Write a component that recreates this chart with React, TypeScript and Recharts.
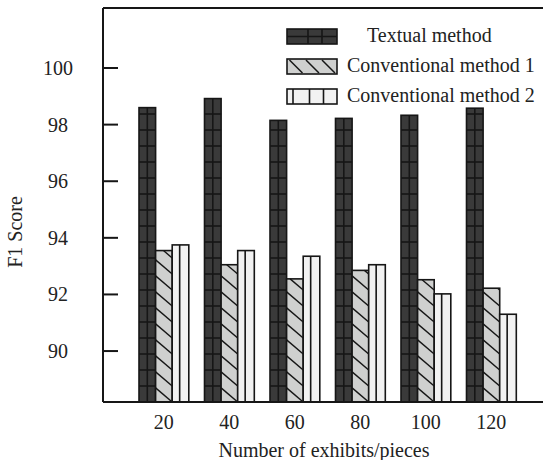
import React from 'react';
import { BarChart, Bar, XAxis, YAxis, ReferenceLine, Legend } from 'recharts';

const categories = ['20', '40', '60', '80', '100', '120'];
const textualMethod = [98.6, 98.92, 98.15, 98.22, 98.33, 98.58];
const conventional1 = [93.55, 93.05, 92.55, 92.85, 92.52, 92.22];
const conventional2 = [93.75, 93.55, 93.35, 93.05, 92.02, 91.3];
const yTicks = [90, 92, 94, 96, 98, 100];

const data = categories.map((c, i) => ({
  name: c,
  textual: textualMethod[i],
  conv1: conventional1[i],
  conv2: conventional2[i],
}));

const FONT = '"Liberation Serif", "Times New Roman", serif';
const INK = '#161616';

// dark bar with grid cells
function GridBar(props: any) {
  const { x, y, width, height } = props;
  if (!height || height <= 0) return null;
  const bottom = y + height;
  const lines = [];
  for (let yy = bottom - 16; yy > y + 2; yy -= 16) {
    lines.push(<line key={yy} x1={x} x2={x + width} y1={yy} y2={yy} stroke={INK} strokeWidth={1.6} />);
  }
  return (
    <g>
      <rect x={x} y={y} width={width} height={height} fill="#3a3a3a" stroke={INK} strokeWidth={1.6} />
      <line x1={x + width * 0.5} x2={x + width * 0.5} y1={y} y2={bottom} stroke={INK} strokeWidth={1.6} />
      {lines}
    </g>
  );
}

// grey bar with backslash hatching
function HatchBar(props: any) {
  const { x, y, width, height } = props;
  if (!height || height <= 0) return null;
  const bottom = y + height;
  const drop = width * 0.85;
  const slope = drop / width;
  const segs = [];
  for (let y0 = bottom - drop; y0 + drop > y; y0 -= 16) {
    let x1 = x;
    let y1 = y0;
    let x2 = x + width;
    let y2 = y0 + drop;
    if (y1 < y) {
      x1 = x + (y - y0) / slope;
      y1 = y;
    }
    if (y2 > bottom) {
      x2 = x + (bottom - y0) / slope;
      y2 = bottom;
    }
    segs.push(<line key={y0} x1={x1} y1={y1} x2={x2} y2={y2} stroke={INK} strokeWidth={1.4} />);
  }
  return (
    <g>
      <rect x={x} y={y} width={width} height={height} fill="#cfd0cf" />
      {segs}
      <rect x={x} y={y} width={width} height={height} fill="none" stroke={INK} strokeWidth={1.6} />
    </g>
  );
}

// light bar split by one vertical line
function SplitBar(props: any) {
  const { x, y, width, height } = props;
  if (!height || height <= 0) return null;
  return (
    <g>
      <rect x={x} y={y} width={width} height={height} fill="#f2f2f2" stroke={INK} strokeWidth={1.6} />
      <line x1={x + width * 0.45} x2={x + width * 0.45} y1={y} y2={y + height} stroke={INK} strokeWidth={1.6} />
    </g>
  );
}

function YTick(props: any) {
  const { x, y, payload } = props;
  return (
    <g>
      <line x1={x} x2={x + 15} y1={y} y2={y} stroke={INK} strokeWidth={2} />
      <text x={x - 45} y={y} textAnchor="middle" dominantBaseline="central" fontFamily={FONT} fontSize={20} fill="#222">
        {payload.value}
      </text>
    </g>
  );
}

function LegendBox() {
  const w = 50;
  const h = 15;
  const rows = [
    { label: 'Textual method', top: 0, tx: 81 },
    { label: 'Conventional method 1', top: 30, tx: 61 },
    { label: 'Conventional method 2', top: 60, tx: 61 },
  ];
  return (
    <svg width={260} height={80} style={{ display: 'block', overflow: 'visible' }}>
      {/* textual */}
      <rect x={1} y={rows[0].top + 1} width={w} height={h} fill="#3a3a3a" stroke={INK} strokeWidth={1.6} />
      <line x1={1 + w * 0.42} x2={1 + w * 0.42} y1={rows[0].top + 1} y2={rows[0].top + 1 + h} stroke={INK} strokeWidth={1.6} />
      <line x1={1 + w * 0.7} x2={1 + w * 0.7} y1={rows[0].top + 1} y2={rows[0].top + 1 + h} stroke={INK} strokeWidth={1.6} />
      <line x1={1} x2={1 + w} y1={rows[0].top + 1 + h / 2} y2={rows[0].top + 1 + h / 2} stroke={INK} strokeWidth={1.4} />
      {/* conventional 1 */}
      <rect x={1} y={rows[1].top + 1} width={w} height={h} fill="#cfd0cf" stroke={INK} strokeWidth={1.6} />
      {[0.05, 0.38, 0.7].map((f) => (
        <line key={f} x1={1 + w * f} x2={1 + w * f + 13} y1={rows[1].top + 2} y2={rows[1].top + h} stroke={INK} strokeWidth={1.5} />
      ))}
      {/* conventional 2 */}
      <rect x={1} y={rows[2].top + 1} width={w} height={h} fill="#f2f2f2" stroke={INK} strokeWidth={1.6} />
      {[0.12, 0.45, 0.73].map((f) => (
        <line key={f} x1={1 + w * f} x2={1 + w * f} y1={rows[2].top + 1} y2={rows[2].top + 1 + h} stroke={INK} strokeWidth={1.6} />
      ))}
      {rows.map((r) => (
        <text key={r.label} x={r.tx} y={r.top + 14} fontFamily={FONT} fontSize={20} fill="#222">
          {r.label}
        </text>
      ))}
    </svg>
  );
}

export default function App() {
  return (
    <div style={{ position: 'absolute', left: 0, top: 0, width: 543, height: 460, overflow: 'hidden', background: '#fff' }}>
      <BarChart
        width={600}
        height={460}
        data={data}
        margin={{ top: 8, right: 20, left: 0, bottom: 0 }}
        barGap={0}
        barSize={16.6}
      >
        <XAxis
          dataKey="name"
          height={58}
          padding={{ left: 28, right: 56 }}
          axisLine={{ stroke: INK, strokeWidth: 2 }}
          tickLine={false}
          tickSize={0}
          tickMargin={13}
          tick={{ fontFamily: FONT, fontSize: 20, fill: '#222' }}
          label={() => (
            <text x={324} y={457} textAnchor="middle" fontFamily={FONT} fontSize={20} fill="#222">
              Number of exhibits/pieces
            </text>
          )}
        />
        <YAxis
          width={103}
          domain={[88.2, 102.12]}
          ticks={yTicks}
          allowDataOverflow
          axisLine={{ stroke: INK, strokeWidth: 2 }}
          tickLine={false}
          tickSize={0}
          tickMargin={0}
          tick={<YTick />}
          label={() => (
            <text
              x={15}
              y={232}
              transform="rotate(-90 15 232)"
              textAnchor="middle"
              dominantBaseline="central"
              fontFamily={FONT}
              fontSize={20}
              fill="#222"
            >
              F1 Score
            </text>
          )}
        />
        <ReferenceLine y={102.12} stroke={INK} strokeWidth={2} />
        <Legend
          layout="vertical"
          align="center"
          verticalAlign="middle"
          wrapperStyle={{ left: 286, top: 28, width: 260 }}
          content={() => <LegendBox />}
        />
        <Bar dataKey="textual" name="Textual method" shape={<GridBar />} isAnimationActive={false} />
        <Bar dataKey="conv1" name="Conventional method 1" shape={<HatchBar />} isAnimationActive={false} />
        <Bar dataKey="conv2" name="Conventional method 2" shape={<SplitBar />} isAnimationActive={false} />
      </BarChart>
    </div>
  );
}
